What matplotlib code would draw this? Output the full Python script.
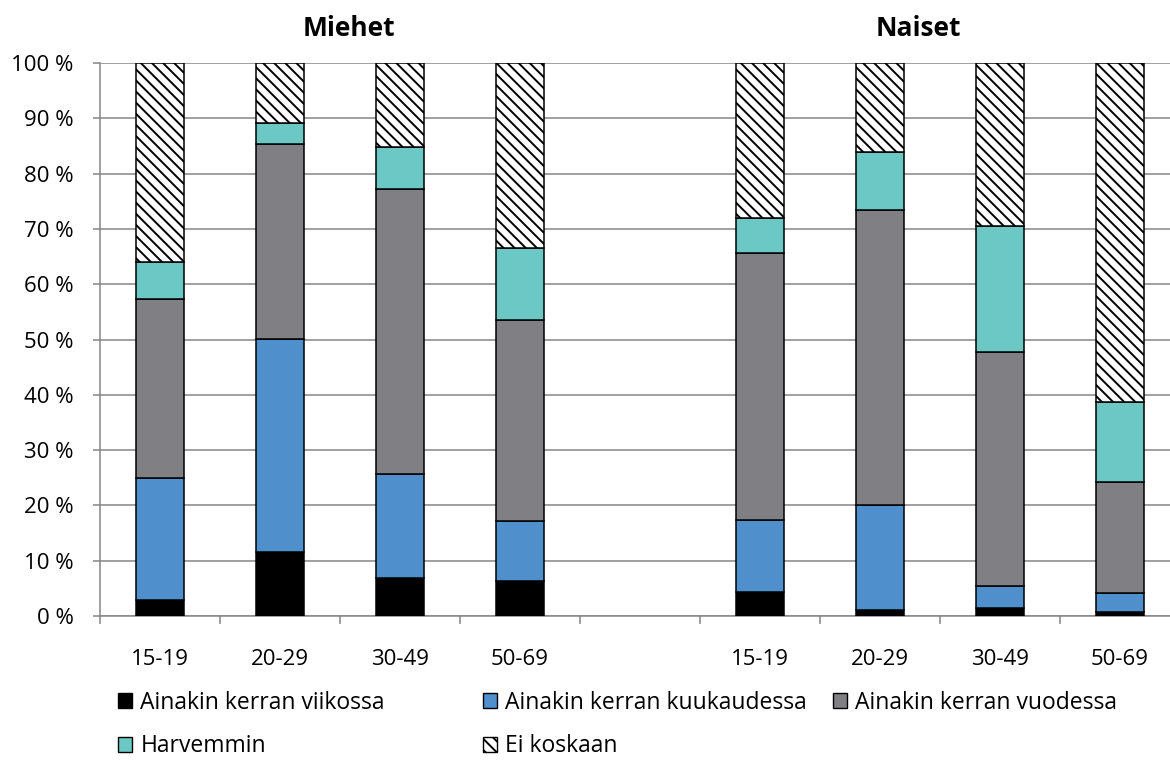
import matplotlib
matplotlib.use('Agg')
import matplotlib.pyplot as plt
from matplotlib.patches import Patch
import numpy as np

plt.rcParams['font.family'] = ['Open Sans', 'DejaVu Sans']
plt.rcParams['hatch.linewidth'] = 1.4

# ikäryhmät, miehet ja naiset (tyhjä väli keskellä)
groups = ['15-19', '20-29', '30-49', '50-69', '', '15-19', '20-29', '30-49', '50-69']
series_names = ['Ainakin kerran viikossa', 'Ainakin kerran kuukaudessa',
                'Ainakin kerran vuodessa', 'Harvemmin', 'Ei koskaan']

# prosenttiosuudet, ensin miehet sitten naiset
viikossa = [2.9, 11.6, 6.9, 6.4, 0, 4.4, 1.1, 1.4, 0.7]
kuukaudessa = [22.1, 38.5, 18.7, 10.7, 0, 13.0, 19.0, 4.1, 3.4]
vuodessa = [32.4, 35.2, 51.6, 36.5, 0, 48.2, 53.3, 42.2, 20.2]
harvemmin = [6.7, 3.8, 7.6, 13.0, 0, 6.3, 10.5, 22.8, 14.4]
ei_koskaan = [35.9, 10.9, 15.2, 33.4, 0, 28.1, 16.1, 29.5, 61.3]
has_bar = [1, 1, 1, 1, 0, 1, 1, 1, 1]

colors = ['#000000', '#4f8fcc', '#807f84', '#6bc8c5', '#ffffff']
hatches = [None, None, None, None, '\\\\\\']

fig = plt.figure(figsize=(11.7, 7.61), dpi=100)
ax = fig.add_axes([100 / 1170, 145 / 761, 1080 / 1170, 553 / 761])

x = np.arange(len(groups))
idx = [i for i in range(len(groups)) if has_bar[i]]
bottom = np.zeros(len(groups))
for vals, name, c, h in zip([viikossa, kuukaudessa, vuodessa, harvemmin, ei_koskaan],
                            series_names, colors, hatches):
    vals = np.array(vals, dtype=float)
    ax.bar(x[idx], vals[idx], 0.4, bottom=bottom[idx], color=c, edgecolor='black',
           linewidth=1.1, hatch=h, zorder=3, label=name)
    bottom += vals

ax.set_xlim(-0.5, 8.5)
ax.set_ylim(0, 100)
ax.set_yticks(np.arange(0, 101, 10))
ax.set_yticklabels(['%d %%' % v for v in range(0, 101, 10)])
ax.set_xticks(x)
ax.set_xticklabels(groups)
ax.set_xticks(np.arange(-0.5, 9, 1), minor=True)
ax.tick_params(axis='x', which='major', length=0, pad=24, labelsize=16)
ax.tick_params(axis='x', which='minor', length=6, width=1.1, color='#868686', direction='out')
ax.tick_params(axis='y', length=5, width=1.1, color='#868686', pad=14, labelsize=16)
ax.grid(axis='y', color='#868686', linewidth=1.1, zorder=0)
ax.set_axisbelow(True)
for s in ['top', 'right']:
    ax.spines[s].set_visible(False)
for s in ['left', 'bottom']:
    ax.spines[s].set_color('#868686')
    ax.spines[s].set_linewidth(1.1)

fig.text(349 / 1170, 1 - 28 / 761, 'Miehet', ha='center', va='center', fontsize=19, fontweight='bold')
fig.text(918 / 1170, 1 - 28 / 761, 'Naiset', ha='center', va='center', fontsize=19, fontweight='bold')

# legenda kolmessa sarakkeessa
handles = [Patch(facecolor=c, edgecolor='black', hatch=h, linewidth=1.0)
           for c, h in zip(colors, hatches)]
cols = [([0, 3], 118), ([1, 4], 483), ([2], 833)]
for items, xpx in cols:
    fig.legend([handles[i] for i in items], [series_names[i] for i in items],
               loc='upper left', bbox_to_anchor=(xpx / 1170, 1 - 691 / 761),
               frameon=False, fontsize=16.5, borderpad=0, borderaxespad=0,
               handlelength=0.63, handleheight=0.63, handletextpad=0.35,
               labelspacing=0.85)

fig.savefig('out.png', dpi=100)
